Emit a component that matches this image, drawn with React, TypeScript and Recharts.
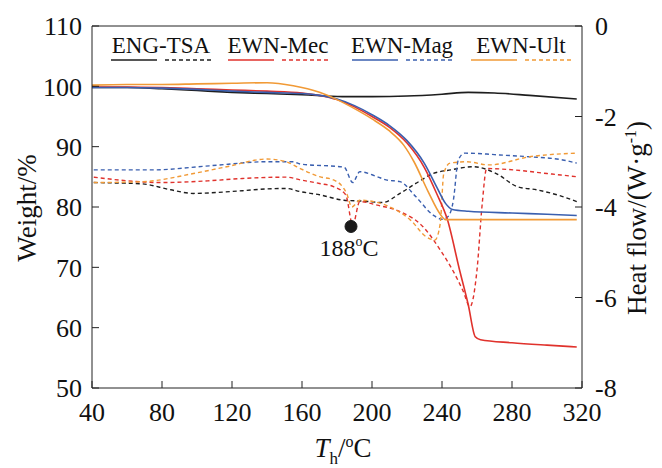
import React from 'react';
import {
  LineChart,
  Line,
  XAxis,
  YAxis,
  ReferenceLine,
  ReferenceDot,
} from 'recharts';

// weight curves (left axis, %), [temperature, value]
const tsaWeight = [
  [40, 99.8], [60, 99.8], [80, 99.6], [100, 99.3], [120, 99.0], [140, 98.8], [160, 98.6],
  [183, 98.3], [200, 98.3], [220, 98.4], [240, 98.7], [255, 99.0], [270, 98.9], [290, 98.5], [317, 97.9],
];
const mecWeight = [
  [40, 99.9], [60, 99.9], [80, 99.8], [100, 99.6], [120, 99.4], [140, 99.2], [160, 98.9], [170, 98.5],
  [180, 97.8], [190, 96.6], [200, 95.0], [210, 93.2], [220, 90.6], [230, 86.5], [237, 82.2], [243, 78],
  [250, 69.6], [255, 63.8], [259, 58.5], [262, 58.0], [280, 57.5], [300, 57.1], [317, 56.8],
];
const magWeight = [
  [40, 99.8], [60, 99.8], [80, 99.7], [100, 99.5], [120, 99.2], [140, 99.0], [160, 98.8], [170, 98.5],
  [180, 97.9], [190, 96.8], [200, 95.3], [210, 93.5], [220, 91.0], [230, 87.2], [237, 83.3], [242, 80.6],
  [246, 79.6], [255, 79.3], [280, 79.0], [300, 78.8], [317, 78.6],
];
const ultWeight = [
  [40, 100.2], [60, 100.3], [80, 100.3], [100, 100.4], [120, 100.5], [140, 100.6], [155, 100.1],
  [170, 99.0], [180, 97.8], [190, 96.3], [200, 94.6], [210, 92.6], [218, 90.3], [224, 87.5], [232, 82.6],
  [239, 78.8], [242, 77.9], [260, 77.9], [290, 77.9], [317, 77.9],
];

// heat flow curves (right axis, W/g)
const tsaHeat = [
  [41, -3.46], [55, -3.47], [69, -3.49], [85, -3.62], [98, -3.7], [115, -3.67], [126, -3.64], [140, -3.6],
  [151, -3.59], [159, -3.66], [170, -3.73], [184, -3.85], [195, -3.87], [206, -3.9], [216, -3.7],
  [225, -3.48], [235, -3.26], [245, -3.18], [258, -3.11], [271, -3.26], [283, -3.55], [294, -3.62],
  [309, -3.77], [317, -3.88],
];
const mecHeat = [
  [41, -3.34], [60, -3.42], [79, -3.46], [107, -3.42], [126, -3.37], [151, -3.34], [159, -3.4], [170, -3.48],
  [178, -3.55], [185, -3.73], [189, -4.4], [193, -3.88], [203, -3.96], [216, -4.1], [229, -4.43],
  [239, -4.95], [246, -5.39], [252, -5.85], [256, -6.2], [260, -5.39], [263, -3.92], [265.5, -3.15],
  [281, -3.18], [300, -3.26], [317, -3.33],
];
const magHeat = [
  [41, -3.18], [75, -3.18], [107, -3.09], [140, -3.0], [155, -3.0], [159, -3.05], [184, -3.12],
  [189, -3.46], [193, -3.22], [203, -3.33], [208, -3.4], [216, -3.44], [225, -3.77], [235, -4.18],
  [240, -4.27], [243.5, -4.21], [246.5, -3.85], [249.3, -2.96], [253, -2.81], [265.5, -2.83],
  [273, -2.85], [290, -2.89], [309, -2.96], [317, -3.03],
];
const ultHeat = [
  [41, -3.46], [69, -3.44], [98, -3.26], [117, -3.11], [140, -2.94], [151, -3.0], [159, -3.15],
  [170, -3.33], [178, -3.4], [185.5, -3.7], [188.5, -4.0], [193, -3.85], [201, -3.88], [212, -4.03],
  [222, -4.29], [231, -4.66], [236, -4.73], [239, -4.36], [241, -3.26], [244.6, -3.03], [254, -3.0],
  [267, -3.07], [290, -2.89], [317, -2.81],
];

const xTicks = [40, 80, 120, 160, 200, 240, 280, 320];
const weightTicks = [50, 60, 70, 80, 90, 100, 110];
const heatTicks = [0, -2, -4, -6, -8];
const seriesNames = ['ENG-TSA', 'EWN-Mec', 'EWN-Mag', 'EWN-Ult'];
const peakTemp = 188;
const peakHeat = -4.43;

const FONT = "'Liberation Serif', 'Times New Roman', serif";
const colors = ['#1e1e1e', '#e0322c', '#3a5faf', '#f19a36'];
const legendX = [111, 228, 352, 471];

const toRows = (pts: number[][]) => pts.map(([t, v]) => ({ t, v }));

const weightSets = [tsaWeight, mecWeight, magWeight, ultWeight];
const heatSets = [tsaHeat, mecHeat, magHeat, ultHeat];

const tickStyle = { fill: '#111', fontSize: 26, fontFamily: FONT };

function DotLabel(props: any) {
  const vb = props.viewBox || {};
  const cx = vb.x + (vb.width || 0) / 2;
  const cy = vb.y + (vb.height || 0) / 2;
  return (
    <text x={cx - 2} y={cy + 30} textAnchor="middle" fontSize={24} fontFamily={FONT} fill="#111">
      188
      <tspan dy={-10} fontSize={14}>o</tspan>
      <tspan dy={10}>C</tspan>
    </text>
  );
}

function Legend() {
  return (
    <svg width={662} height={80} style={{ position: 'absolute', left: 0, top: 0, pointerEvents: 'none' }}>
      {seriesNames.map((name, i) => (
        <g key={name}>
          <text x={legendX[i] + 50} y={53} textAnchor="middle" fontSize={23} fontFamily={FONT} fill="#111">
            {name}
          </text>
          <line x1={legendX[i]} x2={legendX[i] + 46} y1={60} y2={60} stroke={colors[i]} strokeWidth={1.6} />
          <line x1={legendX[i] + 54} x2={legendX[i] + 102} y1={60} y2={60} stroke={colors[i]} strokeWidth={1.4} strokeDasharray="4 3" />
        </g>
      ))}
    </svg>
  );
}

export default function App() {
  return (
    <div style={{ position: 'absolute', left: 0, top: 0, width: 662, height: 468, background: '#fff' }}>
      <LineChart width={662} height={468} margin={{ top: 26, right: 0, bottom: 0, left: 0 }}>
        <XAxis
          dataKey="t"
          type="number"
          domain={[40, 320]}
          ticks={xTicks}
          allowDataOverflow
          height={80}
          tickSize={-7}
          tickMargin={22}
          tick={tickStyle}
          stroke="#222"
          label={{
            content: () => (
              <text x={343} y={457} textAnchor="middle" fontSize={27} fontFamily={FONT} fill="#111">
                <tspan fontStyle="italic">T</tspan>
                <tspan dy={7} fontSize={17}>h</tspan>
                <tspan dy={-7}>/</tspan>
                <tspan dy={-10} fontSize={16}>o</tspan>
                <tspan dy={10}>C</tspan>
              </text>
            ),
          }}
        />
        <YAxis
          yAxisId="w"
          domain={[50, 110]}
          ticks={weightTicks}
          allowDataOverflow
          width={92}
          tickSize={-7}
          tickMargin={17}
          tick={tickStyle}
          stroke="#222"
          label={{
            content: () => (
              <text transform="translate(36,208) rotate(-90)" textAnchor="middle" fontSize={27} fontFamily={FONT} fill="#111">
                Weight/%
              </text>
            ),
          }}
        />
        <YAxis
          yAxisId="hf"
          orientation="right"
          domain={[-8, 0]}
          ticks={heatTicks}
          allowDataOverflow
          width={80}
          tickSize={-7}
          tickMargin={20}
          tick={{ ...tickStyle, textAnchor: 'start' }}
          stroke="#222"
          label={{
            content: () => (
              <text transform="translate(646,218) rotate(-90)" textAnchor="middle" fontSize={27} fontFamily={FONT} fill="#111">
                Heat flow/(W·g
                <tspan dy={-10} fontSize={16}>-1</tspan>
                <tspan dy={10}>)</tspan>
              </text>
            ),
          }}
        />
        <ReferenceLine yAxisId="w" y={110} stroke="#222" />
        {heatSets.map((pts, i) => (
          <Line
            key={'h' + i}
            yAxisId="hf"
            data={toRows(pts)}
            dataKey="v"
            type="monotone"
            stroke={colors[i]}
            strokeWidth={1.4}
            strokeDasharray="4 3"
            dot={false}
            isAnimationActive={false}
          />
        ))}
        {weightSets.map((pts, i) => (
          <Line
            key={'w' + i}
            yAxisId="w"
            data={toRows(pts)}
            dataKey="v"
            type="monotone"
            stroke={colors[i]}
            strokeWidth={1.6}
            dot={false}
            isAnimationActive={false}
          />
        ))}
        <ReferenceDot
          yAxisId="hf"
          x={peakTemp}
          y={peakHeat}
          r={6}
          fill="#1a1a1a"
          stroke="#1a1a1a"
          label={<DotLabel />}
        />
      </LineChart>
      <Legend />
    </div>
  );
}
